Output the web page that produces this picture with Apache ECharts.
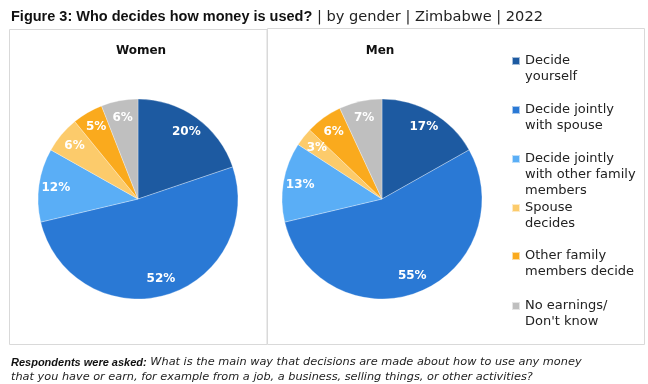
<!DOCTYPE html>
<html><head><meta charset="utf-8">
<script src="https://cdn.jsdelivr.net/npm/echarts@6/dist/echarts.min.js"></script>
<style>html,body{margin:0;padding:0;background:#fff}#c{width:648px;height:384px}</style>
</head><body><div id="c"></div>
<script>
const categories = ['Decide\nyourself', 'Decide jointly\nwith spouse', 'Decide jointly\nwith other family\nmembers', 'Spouse\ndecides', 'Other family\nmembers decide', "No earnings/\nDon't know"];
const women = [20, 52, 12, 6, 5, 6];
const men = [17, 55, 13, 3, 6, 7];
const colors = ['#1D5AA1', '#2A79D5', '#5AAEF6', '#FCCB6B', '#FAAA1D', '#BFBFBF'];
const panelTitles = ['Women', 'Men'];

const FONT = 'DejaVu Sans';
const chart = echarts.init(document.getElementById('c'));

function pieSeries(vals, cx) {
  const data = categories.map((n, i) => ({ name: n, value: vals[i], itemStyle: { color: colors[i] } }));
  const labelData = categories.map((n, i) => ({ name: n, value: vals[i], itemStyle: { color: 'rgba(0,0,0,0)' } }));
  return [
    { type: 'pie', center: [cx, 199], radius: [0, 100], startAngle: 90, clockwise: true, silent: true,
      data: data, label: { show: false }, labelLine: { show: false },
      itemStyle: { borderColor: 'rgba(255,255,255,0.6)', borderWidth: 0.5 } },
    { type: 'pie', center: [cx, 199], radius: [60, 100], startAngle: 90, clockwise: true, silent: true,
      data: labelData, labelLine: { show: false },
      label: { show: true, position: 'inside', formatter: '{c}%', color: '#fff', fontWeight: 'bold', fontSize: 12, fontFamily: FONT } }
  ];
}

// icon (first-line) centre y for each legend item
const legendIconY = [61, 110, 159, 208, 256, 306];
const legends = categories.map((n, i) => {
  const lines = n.split('\n').length;
  return {
    data: [n], left: 511, top: legendIconY[i] - (2 * lines - 1) * 8, orient: 'vertical', itemWidth: 8, itemHeight: 8, itemGap: 0,
    icon: 'rect', selectedMode: false, padding: 0,
    formatter: (name) => '\n'.repeat(lines - 1) + name,
    textStyle: { fontFamily: FONT, fontSize: 13, color: '#222', lineHeight: 16 }
  };
});

chart.setOption({
  animation: false,
  color: colors,
  title: [
    { text: '{b|Figure 3: Who decides how money is used?}{n| | by gender | Zimbabwe | 2022}', left: 6, top: 3,
      textStyle: { rich: { b: { fontFamily: 'Liberation Sans', fontWeight: 'bold', fontSize: 14.5, color: '#111', lineHeight: 18 }, n: { fontFamily: FONT, fontWeight: 'normal', fontSize: 14.6, color: '#222', lineHeight: 18 } } } },
    { text: panelTitles[0], left: 136, top: 40, textAlign: 'center', textStyle: { fontFamily: FONT, fontWeight: 'bold', fontSize: 12, color: '#111' } },
    { text: panelTitles[1], left: 375, top: 40, textAlign: 'center', textStyle: { fontFamily: FONT, fontWeight: 'bold', fontSize: 12, color: '#111' } },
    { text: '{b|Respondents were asked:}{n| What is the main way that decisions are made about how to use any money}\n{n|that you have or earn, for example from a job, a business, selling things, or other activities?}', left: 6, top: 350,
      textStyle: { lineHeight: 15, rich: { b: { fontFamily: 'Liberation Sans', fontWeight: 'bold', fontStyle: 'italic', fontSize: 11, color: '#111', lineHeight: 15 }, n: { fontFamily: FONT, fontWeight: 'normal', fontStyle: 'italic', fontSize: 11.3, color: '#222', lineHeight: 15 } } } }
  ],
  legend: legends,
  graphic: [
    { type: 'rect', shape: { x: 9.5, y: 29.5, width: 257.5, height: 315 }, style: { fill: 'none', stroke: '#D9D9D9', lineWidth: 1 }, z: -1 },
    { type: 'rect', shape: { x: 267.5, y: 28.5, width: 377, height: 316 }, style: { fill: 'none', stroke: '#D9D9D9', lineWidth: 1 }, z: -1 }
  ],
  series: [...pieSeries(women, 138), ...pieSeries(men, 382)]
});
</script></body></html>
